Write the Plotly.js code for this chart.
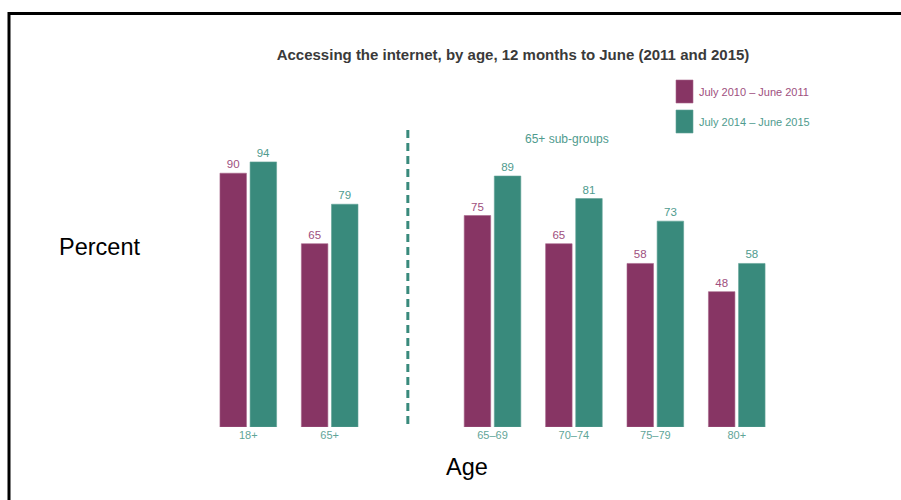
<!DOCTYPE html>
<html>
<head>
<meta charset="utf-8">
<script src="https://cdn.plot.ly/plotly-3.0.1.min.js"></script>
<style>html,body{margin:0;padding:0;background:#fff;}#chart{width:901px;height:500px;}</style>
</head>
<body>
<div id="chart"></div>
<script>
// Data
const categories = ["18+", "65+", "65–69", "70–74", "75–79", "80+"];
const positions = [0, 1, 3, 4, 5, 6];
const series2011 = [90, 65, 75, 65, 58, 48];
const series2015 = [94, 79, 89, 81, 73, 58];
const seriesNames = ["July 2010 – June 2011", "July 2014 – June 2015"];

const purple = "#873564";
const teal = "#398a7c";
const purpleText = "#9e4f7e";
const tealText = "#4f9b8e";

const traces = [
  {type: "bar", x: positions, y: series2011, name: seriesNames[0],
   marker: {color: purple, line: {color: "#a8668c", width: 0.6}},
   text: series2011.map(String), textposition: "outside", cliponaxis: false,
   textfont: {family: "Liberation Sans, Arial, sans-serif", size: 11.5, color: purpleText},
   hoverinfo: "none"},
  {type: "bar", x: positions, y: series2015, name: seriesNames[1],
   marker: {color: teal, line: {color: "#62a397", width: 0.6}},
   text: series2015.map(String), textposition: "outside", cliponaxis: false,
   textfont: {family: "Liberation Sans, Arial, sans-serif", size: 11.5, color: tealText},
   hoverinfo: "none"}
];

const W = 901, H = 500, L = 175, R = 34, T = 145, B = 73;
const pw = W - L - R, ph = H - T - B;
const px = v => (v - L) / pw;
const py = v => (H - B - v) / ph;

const layout = {
  width: W, height: H,
  margin: {l: L, r: R, t: T, b: B, pad: 0},
  paper_bgcolor: "#fff", plot_bgcolor: "#fff",
  barmode: "group", bargap: 0.26, bargroupgap: 0.12,
  showlegend: false,
  font: {family: "Liberation Sans, Arial, sans-serif"},
  title: {text: "<b>Accessing the internet, by age, 12 months to June (2011 and 2015)</b>",
          x: 513 / W, xanchor: "center", xref: "container",
          y: 1 - 55 / H, yanchor: "middle", yref: "container",
          font: {family: "Liberation Sans, Arial, sans-serif", size: 15, color: "#3a3a3a"}},
  xaxis: {range: [-0.9, 7.6], tickmode: "array", tickvals: positions, ticktext: categories,
          showgrid: false, zeroline: false, showline: false, ticks: "",
          tickfont: {size: 11, color: "#5fa598"}, fixedrange: true},
  yaxis: {range: [0, 100], visible: false, showgrid: false, zeroline: false, fixedrange: true},
  shapes: [
    {type: "line", xref: "x", yref: "paper", x0: 1.96, x1: 1.96, y0: py(130), y1: py(427),
     line: {color: teal, width: 3, dash: "8px,5px"}},
    {type: "rect", xref: "paper", yref: "paper", x0: px(676), x1: px(693), y0: py(103), y1: py(80),
     fillcolor: purple, line: {color: "#a8668c", width: 0.6}},
    {type: "rect", xref: "paper", yref: "paper", x0: px(676), x1: px(693), y0: py(133), y1: py(110),
     fillcolor: teal, line: {color: "#62a397", width: 0.6}},
    {type: "line", xref: "paper", yref: "paper", x0: px(8), x1: px(901), y0: py(13.5), y1: py(13.5),
     line: {color: "#000", width: 3}},
    {type: "line", xref: "paper", yref: "paper", x0: px(9), x1: px(9), y0: py(12), y1: py(500),
     line: {color: "#000", width: 3}}
  ],
  annotations: [
    {xref: "paper", yref: "paper", x: px(697), y: py(91.5), xanchor: "left", yanchor: "middle",
     text: seriesNames[0], showarrow: false, font: {size: 11, color: purpleText}},
    {xref: "paper", yref: "paper", x: px(697), y: py(121.5), xanchor: "left", yanchor: "middle",
     text: seriesNames[1], showarrow: false, font: {size: 11, color: tealText}},
    {xref: "paper", yref: "paper", x: px(567), y: py(139), xanchor: "center", yanchor: "middle",
     text: "65+ sub-groups", showarrow: false, font: {size: 12, color: tealText}},
    {xref: "paper", yref: "paper", x: px(99), y: py(247), xanchor: "center", yanchor: "middle",
     text: "Percent", showarrow: false, font: {size: 23.5, color: "#000"}},
    {xref: "paper", yref: "paper", x: px(467), y: py(467), xanchor: "center", yanchor: "middle",
     text: "Age", showarrow: false, font: {size: 23.5, color: "#000"}}
  ]
};

Plotly.newPlot("chart", traces, layout, {staticPlot: true, displayModeBar: false});
</script>
</body>
</html>
